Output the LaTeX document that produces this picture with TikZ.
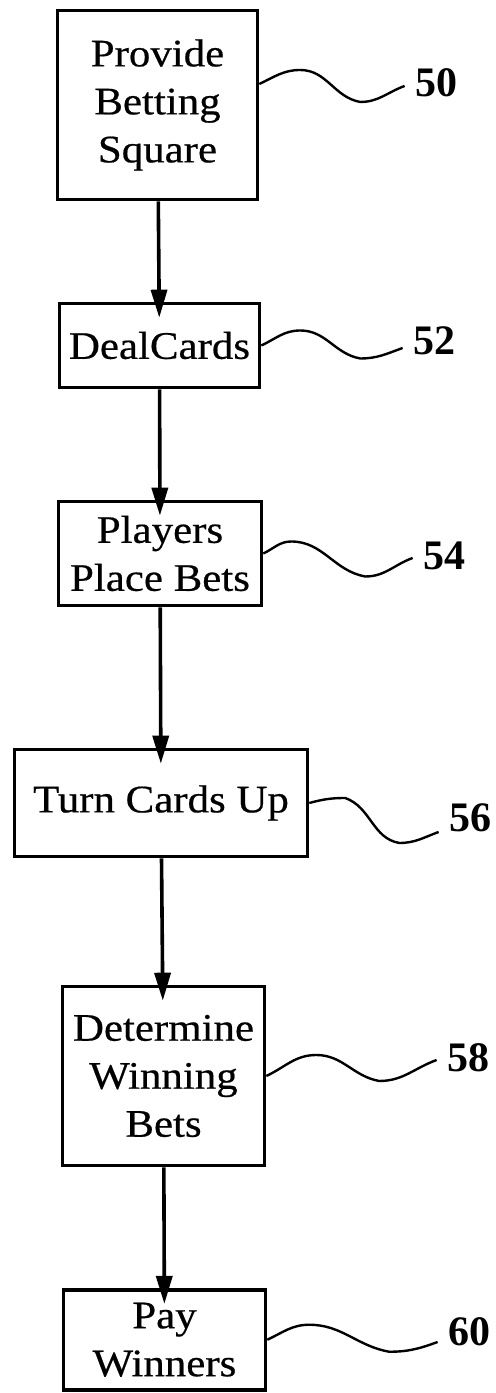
\documentclass[tikz,border=0pt]{standalone}
\usepackage{fontspec}
\setmainfont{Liberation Serif}[FakeStretch=1.1,FakeBold=0.5]
\newfontfamily\numfont{Liberation Serif}
\usetikzlibrary{arrows.meta}
\tikzset{>={Triangle[length=14pt,width=8pt]},
  stepbox/.style={draw, line width=1.8pt, align=center,
    font=\fontsize{19.5pt}{24pt}\selectfont},
  flow/.style={->, line width=1.8pt, shorten >=-8pt},
  lead/.style={line width=1.2pt},
  refnum/.style={inner sep=5pt, font=\numfont\bfseries\fontsize{21pt}{21pt}\selectfont}}

\begin{document}
\begin{tikzpicture}[x=0.5pt,y=0.5pt]
    \useasboundingbox (0,0) rectangle (496,1393);
    \node[stepbox, minimum width=100pt, minimum height=94.5pt] (b50) at (157.5,1288) {Provide\\Betting\\Square};
    \node[stepbox, minimum width=100pt, minimum height=42pt] (b52) at (159.5,1047.5) {DealCards};
    \node[stepbox, minimum width=101.5pt, minimum height=52pt] (b54) at (160,839.5) {Players\\Place Bets};
    \node[stepbox, minimum width=146.5pt, minimum height=53.5pt] (b56) at (161,590) {Turn Cards Up};
    \node[stepbox, minimum width=101pt, minimum height=89.5pt] (b58) at (163.5,317) {Determine\\Winning\\Bets};
    \node[stepbox, minimum width=101pt, minimum height=50pt] (b60) at (164.5,53.25) {Pay\\Winners};
    \node[refnum] (l50) at (436,1310) {50};
    \node[refnum] (l52) at (434,1052) {52};
    \node[refnum] (l54) at (444,837) {54};
    \node[refnum] (l56) at (470,575) {56};
    \node[refnum] (l58) at (468,335) {58};
    \node[refnum] (l60) at (469,61) {60};
    \draw[flow] (b50) -- (b52);
    \draw[flow] (b52) -- (b54);
    \draw[flow] (b54) -- (b56);
    \draw[flow] (b56) -- (b58);
    \draw[flow] (b58) -- (b60);
    \draw[lead] ([yshift=10.5pt]b50.east) to[out=25,in=180] ++(41,14) to[out=0,in=170] ++(60,-32) to[out=0,in=200] ([yshift=-1.5pt]l50.west);
    \draw[lead] (b52.east) to[out=25,in=180] ++(39,15) to[out=0,in=170] ++(60,-28) to[out=0,in=200] ([yshift=-3.5pt]l52.west);
    \draw[lead] (b54.east) to[out=25,in=180] ++(28,12) to[out=0,in=170] ++(74,-35) to[out=0,in=200] ([yshift=-1pt]l54.west);
    \draw[lead] (b56.east) to[out=15,in=180] ++(36,5) to[out=-20,in=170] ++(54,-45) to[out=0,in=200] ([yshift=-7pt]l56.west);
    \draw[lead] (b58.east) to[out=25,in=180] ++(50,21) to[out=0,in=170] ++(63,-26) to[out=0,in=200] ([yshift=-1pt]l58.west);
    \draw[lead] (b60.east) to[out=25,in=180] ++(42,15) to[out=0,in=170] ++(80,-27) to[out=0,in=200] ([yshift=-5pt]l60.west);
\end{tikzpicture}
\end{document}
